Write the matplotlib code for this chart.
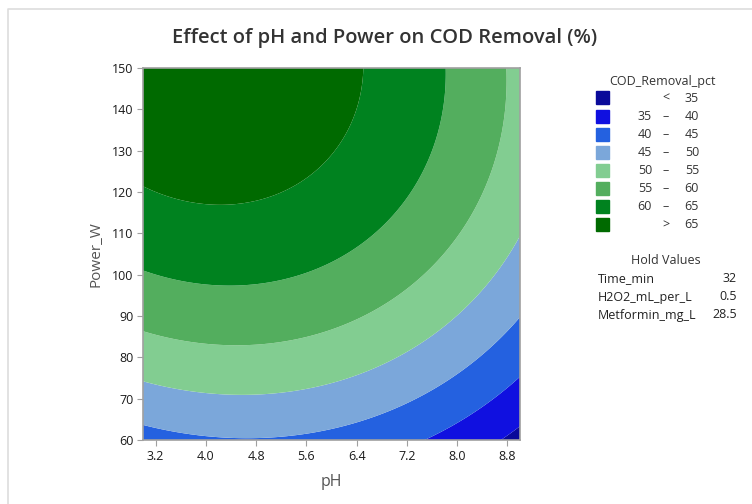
import numpy as np
import matplotlib.pyplot as plt
from matplotlib.lines import Line2D

plt.rcParams['font.family'] = ['Open Sans', 'DejaVu Sans']

# fitted quadratic response surface:
# COD = b0 + b1*pH + b2*P + b11*pH^2 + b22*P^2 + b12*pH*P
coef_names = ['b0', 'b1', 'b2', 'b11', 'b22', 'b12']
coef_values = [-10.9, 6.13, 0.873, -0.6, -0.0027, -0.009]

ph_range = [3.0, 9.0]
power_range = [60, 150]
levels = [0, 35, 40, 45, 50, 55, 60, 65, 100]
level_labels = [('', '<', '35'), ('35', '–', '40'), ('40', '–', '45'), ('45', '–', '50'),
                ('50', '–', '55'), ('55', '–', '60'), ('60', '–', '65'), ('', '>', '65')]
colors = ['#0a0a9a', '#1010e0', '#2461e0', '#7ba7da', '#82cd91', '#53ae5e', '#00821f', '#006a00']
ph_ticks = [3.2, 4.0, 4.8, 5.6, 6.4, 7.2, 8.0, 8.8]
power_ticks = [60, 70, 80, 90, 100, 110, 120, 130, 140, 150]
hold_names = ['Time_min', 'H2O2_mL_per_L', 'Metformin_mg_L']
hold_values = ['32', '0.5', '28.5']

c = dict(zip(coef_names, coef_values))
ph = np.linspace(ph_range[0], ph_range[1], 400)
pw = np.linspace(power_range[0], power_range[1], 400)
X, Y = np.meshgrid(ph, pw)
Z = (c['b0'] + c['b1'] * X + c['b2'] * Y + c['b11'] * X ** 2
     + c['b22'] * Y ** 2 + c['b12'] * X * Y)

fig = plt.figure(figsize=(7.52, 5.04), dpi=100)
ax = fig.add_axes([143 / 752, 1 - 440 / 504, 377 / 752, 372 / 504])
ax.contourf(X, Y, Z, levels=levels, colors=colors, antialiased=True)
ax.set_xlim(ph_range)
ax.set_ylim(power_range)
ax.set_xticks(ph_ticks)
ax.set_xticklabels([f'{t:.1f}' for t in ph_ticks])
ax.set_yticks(power_ticks)
for s in ['top', 'right', 'left', 'bottom']:
    ax.spines[s].set_color('#a0a0a0')
    ax.spines[s].set_linewidth(1.2)
ax.tick_params(direction='out', length=4, color='#a0a0a0', labelsize=9,
               labelcolor='#1a1a1a', pad=3)
ax.set_xlabel('pH', fontsize=11.5, color='#555555', labelpad=8)
ax.set_ylabel('Power_W', fontsize=11, color='#555555', labelpad=6)

fig.text(385 / 752, 1 - 38 / 504, 'Effect of pH and Power on COD Removal (%)',
         ha='center', va='center', fontsize=14.5, color='#333333', weight='semibold')

# legend
fs = 9
fig.text(662 / 752, 1 - 81 / 504, 'COD_Removal_pct', ha='center', va='center',
         fontsize=fs, color='#333333')
for i, (col, lab) in enumerate(zip(colors, level_labels)):
    yc = 1 - (98 + i * 18.1) / 504
    fig.patches.append(plt.Rectangle((596 / 752, yc - 6.5 / 504), 13 / 752, 13 / 504,
                                     transform=fig.transFigure, color=col))
    fig.text(652 / 752, yc, lab[0], ha='right', va='center', fontsize=fs, color='#333333')
    fig.text(666 / 752, yc, lab[1], ha='center', va='center', fontsize=fs, color='#333333')
    fig.text(699 / 752, yc, lab[2], ha='right', va='center', fontsize=fs, color='#333333')

fig.text(666 / 752, 1 - 260 / 504, 'Hold Values', ha='center', va='center',
         fontsize=fs, color='#333333')
for i, (n, v) in enumerate(zip(hold_names, hold_values)):
    yc = 1 - (279 + i * 18) / 504
    fig.text(598 / 752, yc, n, ha='left', va='center', fontsize=fs, color='#222222')
    fig.text(737 / 752, yc, v, ha='right', va='center', fontsize=fs, color='#222222')

# panel frame (top and left only, as in the screenshot)
fig.lines.append(Line2D([8 / 752, 8 / 752, 1], [0, 1 - 9 / 504, 1 - 9 / 504],
                        transform=fig.transFigure, color='#dddddd', lw=1.2))

fig.savefig('out.png', dpi=100)
